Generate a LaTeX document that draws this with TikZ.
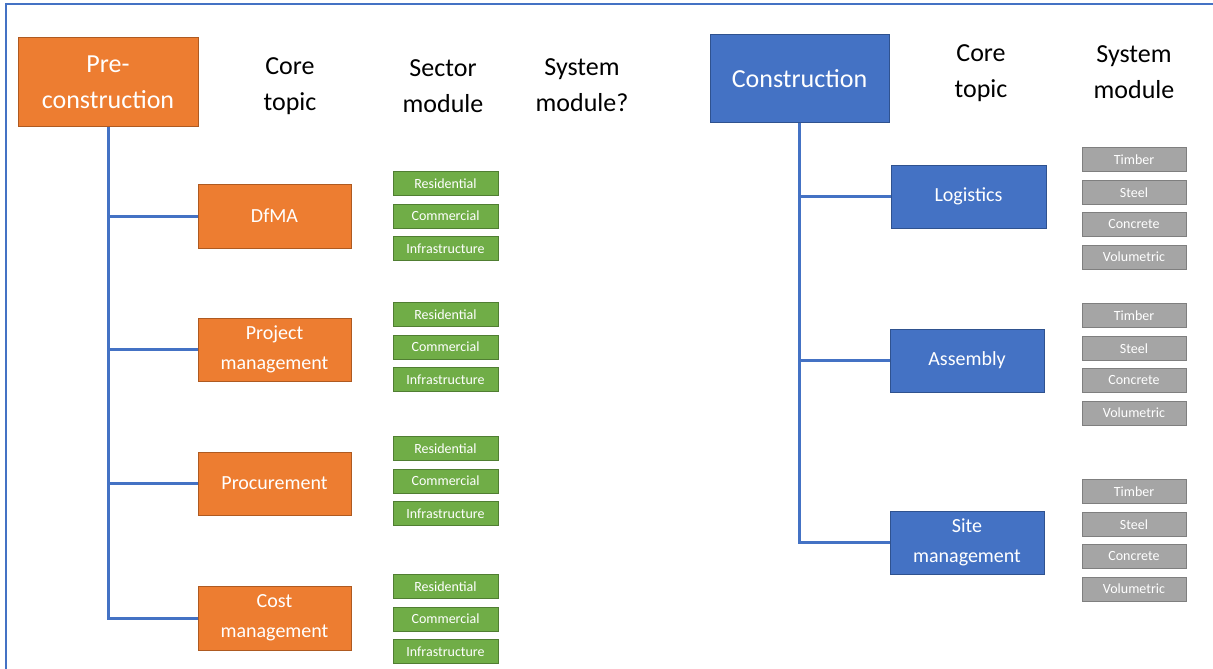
\documentclass[tikz,border=0pt]{standalone}
\usepackage{fontspec}
\setmainfont{Carlito}
\definecolor{orng}{HTML}{ED7D31}
\definecolor{orngb}{HTML}{AE5A21}
\definecolor{blu}{HTML}{4472C4}
\definecolor{blub}{HTML}{2F528F}
\definecolor{grn}{HTML}{70AD47}
\definecolor{grnb}{HTML}{507E32}
\definecolor{gry}{HTML}{A5A5A5}
\definecolor{gryb}{HTML}{7F7F7F}
\tikzset{
 box/.style={draw, line width=1pt, text=white, align=center, inner sep=0pt},
 topbox/.style={box, minimum width=#1, minimum height=88pt, font=\fontsize{26}{36}\selectfont},
 obox/.style={box, fill=orng, draw=orngb, minimum width=153pt, minimum height=64pt, font=\fontsize{20}{30}\selectfont},
 bbox/.style={box, fill=blu, draw=blub, minimum width=155pt, minimum height=63pt, font=\fontsize{20}{30}\selectfont},
 gbox/.style={box, fill=grn, draw=grnb, minimum width=105pt, minimum height=24pt, font=\fontsize{14}{16}\selectfont},
 sbox/.style={box, fill=gry, draw=gryb, minimum width=104pt, minimum height=24pt, font=\fontsize{14}{16}\selectfont},
 header/.style={align=center, inner sep=0pt, font=\fontsize{26}{36}\selectfont},
 conn/.style={draw=blu, line width=3pt},
}
\begin{document}
\begin{tikzpicture}[x=1pt,y=-1pt]
\useasboundingbox (0,0) rectangle (1213,669);
% frame
\draw[blu, line width=1.8pt] (6,669) -- (6,4) -- (1213,4);

% left tree
\node[topbox=180pt, fill=orng, draw=orngb] (pre) at (108,82) {Pre-\\construction};
\node[header] (hcoreL) at (290,86) {Core\\topic};
\node[header] (hsector) at (443,86) {Sector\\module};
\node[header] (hsysL) at (582,85) {System\\module?};

\node[obox] (dfma) at (274.5,216) {DfMA};
\node[obox, minimum height=63pt] (pm) at (274.5,349.5) {Project\\management};
\node[obox, minimum height=63pt] (proc) at (274.5,483.5) {Procurement};
\node[obox] (cost) at (274.5,618) {Cost\\management};

\foreach \g/\y in {a/183.5, b/314.5, c/448.5, d/586.5}{
  \node[gbox] (res\g) at (445.5,\y) {Residential};
  \node[gbox] (com\g) at (445.5,\y+32.5) {Commercial};
  \node[gbox] (inf\g) at (445.5,\y+65) {Infrastructure};
}

\draw[conn] (pre.south) |- (dfma.west);
\draw[conn] (pre.south) |- (pm.west);
\draw[conn] (pre.south) |- (proc.west);
\draw[conn] (pre.south) |- (cost.west);

% right tree
\node[topbox=179pt, minimum height=87pt, fill=blu, draw=blub] (cons) at (799.5,78.5) {Construction};
\node[header] (hcoreR) at (981,73) {Core\\topic};
\node[header] (hsysR) at (1134,72) {System\\module};

\node[bbox] (log) at (968.5,196.5) {Logistics};
\node[bbox, minimum width=154pt] (asm) at (967,360.5) {Assembly};
\node[bbox, minimum width=154pt] (site) at (967,542.5) {Site\\management};

\foreach \g/\y in {a/159.5, b/315.5, c/491.5}{
  \node[sbox] (tim\g) at (1134,\y) {Timber};
  \node[sbox] (ste\g) at (1134,\y+33) {Steel};
  \node[sbox] (con\g) at (1134,\y+65) {Concrete};
  \node[sbox] (vol\g) at (1134,\y+97.5) {Volumetric};
}

\draw[conn] (cons.south) |- (log.west);
\draw[conn] (cons.south) |- (asm.west);
\draw[conn] (cons.south) |- (site.west);
\end{tikzpicture}
\end{document}
